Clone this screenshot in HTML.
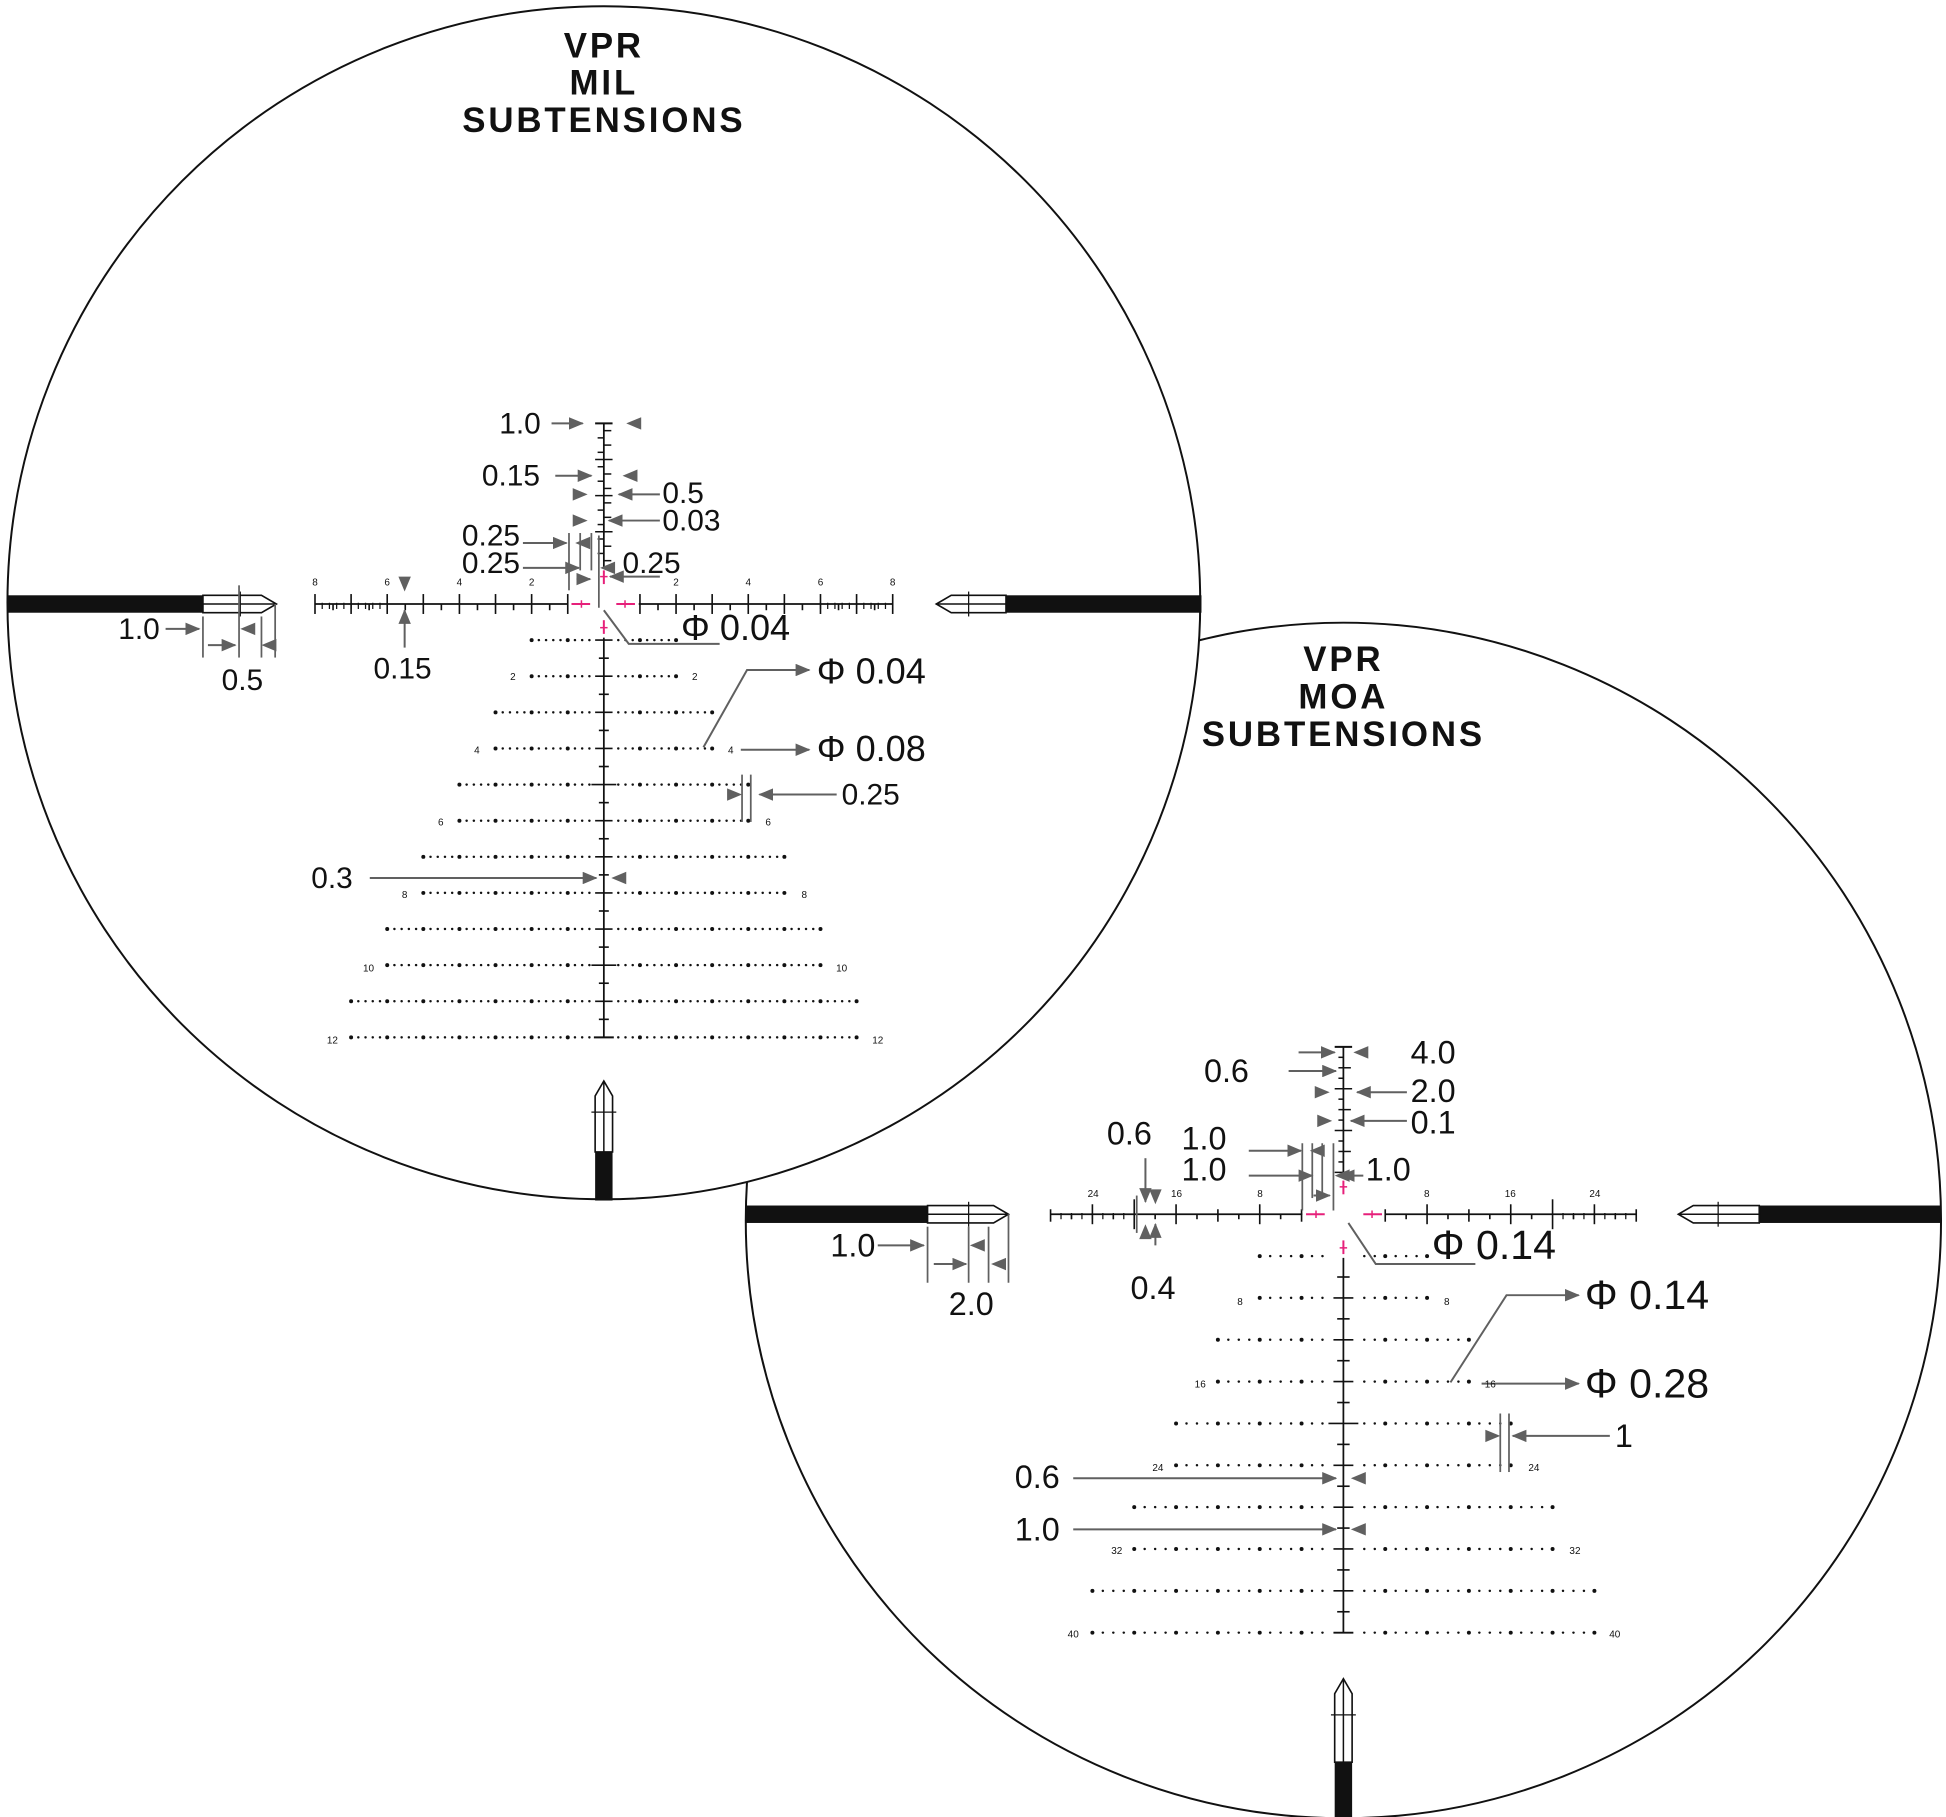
<!DOCTYPE html>
<html><head><meta charset="utf-8">
<style>
html,body{margin:0;padding:0;background:#fff;}
svg{display:block;}
text{font-family:"Liberation Sans",sans-serif;fill:#111;}
.t{font-weight:bold;font-size:28px;text-anchor:middle;letter-spacing:2.3px}
.l{font-size:24px}
.m{font-size:26px}
.L{font-size:29px}
.M{font-size:33px}
.s{font-size:8px;text-anchor:middle}
</style></head>
<body>
<svg id="sv" width="1946" height="1817" viewBox="0 0 1563 1459" preserveAspectRatio="none" xmlns="http://www.w3.org/2000/svg">
<defs>
<marker id="ar" markerWidth="12" markerHeight="10" refX="11" refY="5" orient="auto" markerUnits="userSpaceOnUse">
<path d="M0,0 L12,5 L0,10 z" fill="#606060"/>
</marker>
</defs>
<circle cx="1079" cy="980" r="480" fill="none" stroke="#111" stroke-width="1.6"/>
<circle cx="485" cy="484" r="479" fill="#fff" stroke="#111" stroke-width="1.6"/>
<g id="geo"></g>

<text class="t" x="485" y="46">VPR</text>
<text class="t" x="485" y="76">MIL</text>
<text class="t" x="485" y="106">SUBTENSIONS</text>
<text class="t" x="1079" y="539">VPR</text>
<text class="t" x="1079" y="569">MOA</text>
<text class="t" x="1079" y="599">SUBTENSIONS</text>

<g>
<text class="s" x="253" y="470">8</text><text class="s" x="311" y="470">6</text><text class="s" x="369" y="470">4</text><text class="s" x="427" y="470">2</text>
<text class="s" x="543" y="470">2</text><text class="s" x="601" y="470">4</text><text class="s" x="659" y="470">6</text><text class="s" x="717" y="470">8</text>
<text class="s" x="412" y="546">2</text><text class="s" x="558" y="546">2</text>
<text class="s" x="383" y="605">4</text><text class="s" x="587" y="605">4</text>
<text class="s" x="354" y="663">6</text><text class="s" x="617" y="663">6</text>
<text class="s" x="325" y="721">8</text><text class="s" x="646" y="721">8</text>
<text class="s" x="296" y="780">10</text><text class="s" x="676" y="780">10</text>
<text class="s" x="267" y="838">12</text><text class="s" x="705" y="838">12</text>
<text class="s" x="878" y="961">24</text><text class="s" x="945" y="961">16</text><text class="s" x="1012" y="961">8</text>
<text class="s" x="1146" y="961">8</text><text class="s" x="1213" y="961">16</text><text class="s" x="1281" y="961">24</text>
<text class="s" x="996" y="1048">8</text><text class="s" x="1162" y="1048">8</text>
<text class="s" x="964" y="1114">16</text><text class="s" x="1197" y="1114">16</text>
<text class="s" x="930" y="1181">24</text><text class="s" x="1232" y="1181">24</text>
<text class="s" x="897" y="1248">32</text><text class="s" x="1265" y="1248">32</text>
<text class="s" x="862" y="1315">40</text><text class="s" x="1297" y="1315">40</text>
</g>

<!-- MIL annotations -->
<text class="l" x="401" y="348">1.0</text>
<text class="l" x="387" y="390">0.15</text>
<text class="l" x="532" y="404">0.5</text>
<text class="l" x="532" y="426">0.03</text>
<text class="l" x="371" y="438">0.25</text>
<text class="l" x="371" y="460">0.25</text>
<text class="l" x="500" y="460">0.25</text>
<text class="l" x="95" y="513">1.0</text>
<text class="l" x="178" y="554">0.5</text>
<text class="l" x="300" y="545">0.15</text>
<text class="L" x="547" y="514">Φ 0.04</text>
<text class="L" x="656" y="549">Φ 0.04</text>
<text class="L" x="656" y="611">Φ 0.08</text>
<text class="l" x="676" y="646">0.25</text>
<text class="l" x="250" y="713">0.3</text>

<!-- MOA annotations -->
<text class="m" x="1133" y="854">4.0</text>
<text class="m" x="967" y="869">0.6</text>
<text class="m" x="1133" y="885">2.0</text>
<text class="m" x="1133" y="910">0.1</text>
<text class="m" x="889" y="919">0.6</text>
<text class="m" x="949" y="923">1.0</text>
<text class="m" x="949" y="948">1.0</text>
<text class="m" x="1097" y="948">1.0</text>
<text class="m" x="908" y="1043">0.4</text>
<text class="m" x="667" y="1009">1.0</text>
<text class="m" x="762" y="1056">2.0</text>
<text class="M" x="1150" y="1011">Φ 0.14</text>
<text class="M" x="1273" y="1051">Φ 0.14</text>
<text class="M" x="1273" y="1122">Φ 0.28</text>
<text class="m" x="1297" y="1162">1</text>
<text class="m" x="815" y="1195">0.6</text>
<text class="m" x="815" y="1237">1.0</text>
</svg>
<script>
var g=document.getElementById('geo'),NS='http://www.w3.org/2000/svg';
function el(t,a){var e=document.createElementNS(NS,t);for(var k in a)e.setAttribute(k,a[k]);g.appendChild(e);return e;}
function ln(x1,y1,x2,y2,c,w){el('line',{x1:x1,y1:y1,x2:x2,y2:y2,stroke:c||'#111','stroke-width':w||1.4});}
function ar(x1,y1,x2,y2){el('line',{x1:x1,y1:y1,x2:x2,y2:y2,stroke:'#606060','stroke-width':1.6,'marker-end':'url(#ar)'});}
function pl(p){el('polyline',{points:p,fill:'none',stroke:'#606060','stroke-width':1.6,'marker-end':'url(#ar)'});}
function pl0(p){el('polyline',{points:p,fill:'none',stroke:'#606060','stroke-width':1.6});}
function tri(x,y,d){var p;if(d=='l')p=[x,y,x+12,y-5,x+12,y+5];if(d=='r')p=[x,y,x-12,y-5,x-12,y+5];if(d=='u')p=[x,y,x-5,y+12,x+5,y+12];if(d=='d')p=[x,y,x-5,y-12,x+5,y-12];el('polygon',{points:p.join(','),fill:'#606060'});}
function dot(x,y,r){el('circle',{cx:x,cy:y,r:r,fill:'#111'});}
function vl(x,y1,y2){ln(x,y1,x,y2,'#606060',1.4);}

function hpost(x0,x1,y,dir,solidEnd,outStart,tip,cross){
  el('rect',{x:Math.min(x0,x1),y:y-7,width:Math.abs(x1-x0),height:14,fill:'#111'});
  var a=outStart,b=tip,bb=b-dir*12;
  el('polygon',{points:[a,y-7,bb,y-7,b,y,bb,y+7,a,y+7].join(','),fill:'#fff',stroke:'#111','stroke-width':1.3});
  ln(a,y,b,y,'#111',1.2);
  ln(cross,y-10,cross,y+10,'#111',1);
}
function vpost(x,tip,sol,bot,cross){
  el('rect',{x:x-7,y:sol,width:14,height:bot-sol,fill:'#111'});
  el('polygon',{points:[x-7,sol,x-7,tip+12,x,tip,x+7,tip+12,x+7,sol].join(','),fill:'#fff',stroke:'#111','stroke-width':1.3});
  ln(x,tip,x,sol,'#111',1.2);
  ln(x-10,cross,x+10,cross,'#111',1);
}
hpost(6,163,485,1,163,163,222,193);
hpost(965,808,485,-1,808,808,752,778);
vpost(485,868,925,964,893);
hpost(599,745,975,1,745,745,810,778);
hpost(1559,1413,975,-1,1413,1413,1348,1380);
vpost(1079,1348,1415,1459,1377);

function reticle(cx,cy,u,o){
  ln(cx-o.hx*u,cy,o.gapL,cy);ln(o.gapR,cy,cx+o.hx*u,cy);
  for(var s=-1;s<=1;s+=2){
    for(var v=o.hstep;v<=o.hx+1e-6;v+=o.hstep){
      var x=cx+s*v*u; if(Math.abs(x-cx)<o.gap-1)continue;
      var h=o.htick(v);
      ln(x,cy-h[0],x,cy+h[1],'#111',1.3);
    }
    for(var v=o.fineFrom;v<o.hx;v+=o.fine){ var x=cx+s*v*u; ln(x,cy-1,x,cy+4,'#111',1);}
  }
  ln(cx,cy-o.vt*u,cx,o.gapT);ln(cx,o.gapB,cx,cy+o.vb*u);
  ln(cx-7,cy-o.vt*u,cx+7,cy-o.vt*u,'#111',1.6);
  ln(cx-8,cy+o.vb*u,cx+8,cy+o.vb*u,'#111',1.6);
  for(var v=o.vstepT;v<o.vt-1e-6;v+=o.vstepT){var y=cy-v*u;if(y>o.gapT-2)continue;var w=o.vtickT(v);ln(cx-w[0],y,cx+w[1],y,'#111',1.2);}
  for(var v=o.vstepB;v<o.vb-1e-6;v+=o.vstepB){var y=cy+v*u;if(y<o.gapB)continue;var w=o.vtickB(v);ln(cx-w,y,cx+w,y,'#111',1.3);}
  o.rows.forEach(function(rw){
    var y=cy+rw[0]*u, e=rw[1];
    for(var s=-1;s<=1;s+=2)
      for(var v=o.dstart;v<=e+1e-6;v+=o.dstep){
        var big=Math.abs(v/o.dbig-Math.round(v/o.dbig))<1e-4;
        dot(cx+s*v*u,y,big?1.6:1.0);
      }
  });
  var P='#e6207a';
  ln(o.gapL+3,cy,o.gapL+18,cy,P,1.6);ln(o.gapR-18,cy,o.gapR-3,cy,P,1.6);
  ln(o.gapL+11,cy-3,o.gapL+11,cy+3,P,1.2);ln(o.gapR-11,cy-3,o.gapR-11,cy+3,P,1.2);
  ln(cx,o.gapT+3,cx,o.gapT+14,P,1.6);ln(cx,o.gapB-14,cx,o.gapB-3,P,1.6);
  ln(cx-3,o.gapT+8,cx+3,o.gapT+8,P,1.2);ln(cx-3,o.gapB-8,cx+3,o.gapB-8,P,1.2);
}
var milRows=[];for(var n=1;n<=12;n++)milRows.push([n,Math.ceil(n/2)+1]);
reticle(485,485,29,{hx:8,hstep:0.5,gap:25,gapL:456,gapR:513,gapT:455,gapB:512,
 htick:function(v){return Math.abs(v-Math.round(v))<1e-6?[8,8]:[0,5];},fineFrom:6,fine:0.2,
 vt:5,vb:12,vstepT:0.2,vtickT:function(v){var r=Math.round(v*5);return r%5==0?[7,7]:(r%2==0?[0,6]:[5,0]);},
 vstepB:0.5,vtickB:function(v){if(Math.abs(v%5)<1e-6)return 10;return Math.abs(v-Math.round(v))<1e-6?7:4;},
 rows:milRows,dstart:0.4,dstep:0.2,dbig:1});
var moaRows=[];for(var k=4;k<=40;k+=4)moaRows.push([k,4*Math.ceil(k/8)+4]);
reticle(1079,975,8.4,{hx:28,hstep:2,gap:25,gapL:1046,gapR:1113,gapT:945,gapB:1010,
 htick:function(v){if(Math.abs(v-20)<1e-6)return[12,12];if(v%8==0)return[8,8];if(v%4==0)return[4,6];return[0,4];},fineFrom:21,fine:1,
 vt:16,vb:40,vstepT:1,vtickT:function(v){return v%4==0?[7,7]:(v%2==0?[4,6]:[4,0]);},
 vstepB:2,vtickB:function(v){if(v%20==0)return 12;return v%4==0?8:5;},
 rows:moaRows,dstart:2,dstep:1,dbig:4});

ar(443,340,468,340);tri(503,340,'l');
ar(446,382,475,382);tri(500,382,'l');
ar(530,397,497,397);tri(472,397,'r');
ar(530,418,489,418);tri(472,418,'r');
ar(420,436,455,436);vl(457,428,474);vl(466,428,458);vl(475,428,458);tri(462,436,'l');
ar(420,456,465,456);tri(482,456,'l');ar(463,465,474,465);
vl(481,430,488);
ar(530,463,490,463);
ar(133,505,160,505);vl(163,495,528);vl(192,470,528);vl(210,495,528);vl(221,485,528);
ar(167,518,189,518);tri(193,505,'l');tri(210,518,'l');
ar(325,520,325,490);tri(325,475,'d');
pl0('485,490 505,517 578,517');
pl('565,600 600,538 650,538');
ar(595,602,650,602);
ar(672,638,610,638);vl(596,622,660);vl(603,622,660);tri(596,638,'r');
ar(297,705,479,705);tri(491,705,'l');
ar(1043,845,1072,845);tri(1087,845,'l');
ar(1035,860,1073,860);
ar(1130,877,1090,877);tri(1068,877,'r');
ar(1130,900,1085,900);tri(1070,900,'r');
ar(920,930,920,965);ar(928,1000,928,983);tri(920,983,'u');tri(928,967,'d');vl(913,960,990);
ar(1003,924,1045,924);vl(1046,918,972);vl(1054,918,962);vl(1062,918,962);tri(1052,924,'l');vl(1071,918,972);
ar(1003,944,1054,944);ar(1055,960,1068,960);tri(1072,944,'l');
ar(1095,944,1077,944);
ar(705,1000,742,1000);vl(745,985,1030);vl(778,985,1030);vl(794,985,1030);vl(810,975,1030);
ar(750,1015,776,1015);tri(779,1000,'l');tri(796,1015,'l');
pl0('1083,982 1105,1015 1185,1015');
pl('1165,1110 1210,1040 1268,1040');
ar(1190,1111,1268,1111);
ar(1293,1153,1215,1153);vl(1205,1135,1182);vl(1212,1135,1182);tri(1205,1153,'r');
ar(862,1187,1073,1187);tri(1085,1187,'l');
ar(862,1228,1073,1228);tri(1085,1228,'l');
</script>
</body></html>
